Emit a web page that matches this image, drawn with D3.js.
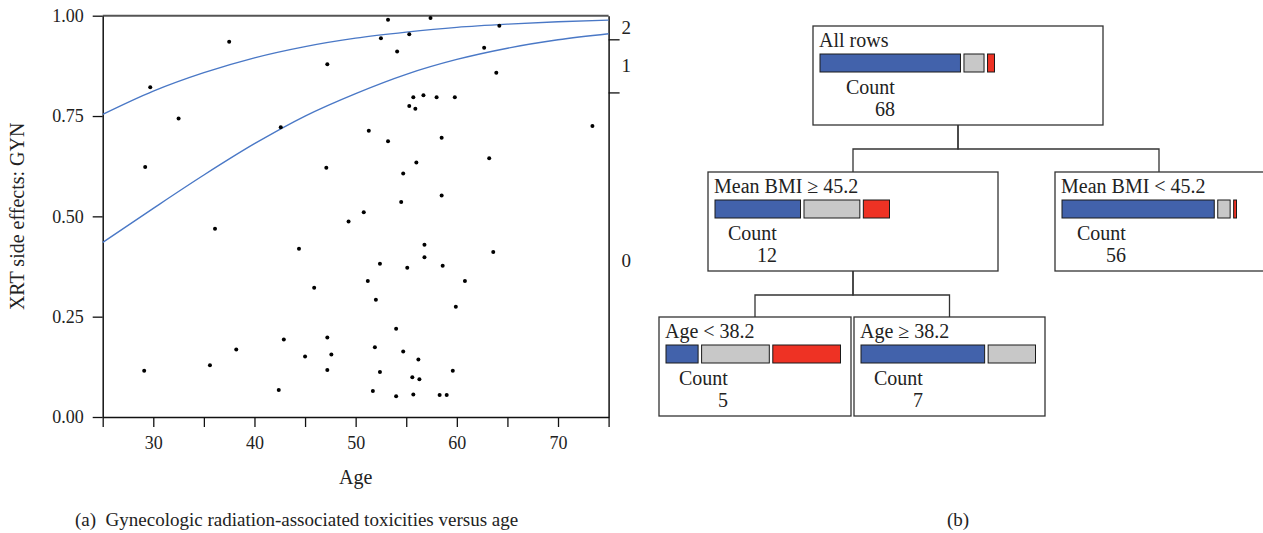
<!DOCTYPE html>
<html>
<head>
<meta charset="utf-8">
<title>XRT side effects: GYN versus age, with partition tree</title>
<script src="https://d3js.org/d3.v7.min.js"></script>
<style>
  body { margin: 0; background: #fff; }
  svg text { font-family: "Liberation Serif", "Times New Roman", serif; fill: #222; }
</style>
</head>
<body>
<svg width="1263" height="533"></svg>
<script>

// ---- panel (a) data: one point per patient, age vs plotted GYN score ----
var ages = [29.7, 37.5, 47.2, 32.5, 42.6, 29.2, 47.1, 53.2, 57.4, 64.2, 52.5, 55.3, 54.1, 62.7,
  63.9, 55.7, 56.7, 58.0, 59.8, 55.3, 55.9, 73.4, 51.3, 53.2, 58.5, 56.0, 63.2, 54.7, 54.5, 58.5,
  50.8, 36.1, 44.4, 49.3, 45.9, 42.9, 47.2, 38.2, 45.0, 47.6, 29.1, 35.6, 47.2, 42.4, 56.8, 63.6,
  56.8, 52.4, 55.1, 58.6, 51.2, 60.8, 52.0, 59.9, 54.0, 51.9, 54.7, 56.2, 52.4, 59.6, 55.6, 56.3,
  51.7, 54.0, 55.7, 58.3, 59.0];
var gynValues = [0.822, 0.935, 0.879, 0.744, 0.722, 0.623, 0.621, 0.990, 0.994, 0.975, 0.944, 0.954, 0.911, 0.920,
  0.858, 0.797, 0.802, 0.797, 0.797, 0.775, 0.768, 0.725, 0.713, 0.687, 0.696, 0.634, 0.645, 0.607, 0.536, 0.552,
  0.510, 0.469, 0.419, 0.487, 0.322, 0.193, 0.198, 0.168, 0.151, 0.156, 0.115, 0.129, 0.117, 0.067, 0.429, 0.411,
  0.398, 0.382, 0.372, 0.377, 0.339, 0.339, 0.292, 0.275, 0.220, 0.174, 0.163, 0.143, 0.112, 0.115, 0.099, 0.094,
  0.065, 0.052, 0.056, 0.055, 0.055];

// fitted cumulative probability curves, read at every 5 years
var curveAges  = [25, 30, 35, 40, 45, 50, 55, 60, 65, 70, 75];
var upperCurve = [0.754, 0.812, 0.858, 0.895, 0.923, 0.944, 0.959, 0.971, 0.979, 0.985, 0.989];
var lowerCurve = [0.435, 0.520, 0.603, 0.681, 0.750, 0.806, 0.854, 0.891, 0.919, 0.940, 0.955];

var xTicks = [25, 30, 35, 40, 45, 50, 55, 60, 65, 70, 75];
var xTickLabels = ["", "30", "", "40", "", "50", "", "60", "", "70", ""];
var yTicks = [0, 0.25, 0.5, 0.75, 1];
var gradeLabels = ["0", "1", "2"];
var gradeCounts = [55, 9, 4];

// ---- panel (b) data: partition tree ----
var nodeNames   = ["All rows", "Mean BMI \u2265 45.2", "Mean BMI < 45.2", "Age < 38.2", "Age \u2265 38.2"];
var nodeParents = [-1, 0, 0, 1, 1];
var nodeGrade0  = [55, 6, 49, 1, 5];
var nodeGrade1  = [9, 4, 5, 2, 2];
var nodeGrade2  = [4, 2, 2, 2, 0];

// box placement of each tree node (layout only)
var boxLayout = [
  {x: 813, y: 26,  w: 290, countX: 33},
  {x: 708, y: 172, w: 290, countX: 20},
  {x: 1055, y: 172, w: 220, countX: 22},
  {x: 659, y: 317, w: 192, countX: 20},
  {x: 854, y: 317, w: 191, countX: 20}
];
var boxH = 99, barW = 178;
var gradeColors = ["#4262ab", "#c8c8c8", "#ee3224"];
var curveColor = "#4a78c6";

var svg = d3.select("svg");

// ================= panel (a) =================
var x = d3.scaleLinear().domain([25, 75]).range([102.7, 608.6]);
var y = d3.scaleLinear().domain([0, 1]).range([417, 15.7]);

var gA = svg.append("g");

// top frame
gA.append("line")
  .attr("x1", x(25)).attr("x2", x(75)).attr("y1", y(1)).attr("y2", y(1))
  .attr("stroke", "#555").attr("stroke-width", 2);

var yAxis = gA.append("g")
  .attr("transform", "translate(" + x(25) + ",0)")
  .call(d3.axisLeft(y).tickValues(yTicks).tickFormat(d3.format(".2f")).tickSize(10).tickPadding(9).tickSizeOuter(0));

var xAxis = gA.append("g")
  .attr("transform", "translate(0," + y(0) + ")")
  .call(d3.axisBottom(x).tickValues(xTicks).tickFormat(function(d, i) { return xTickLabels[i]; })
    .tickSize(10).tickPadding(9).tickSizeOuter(0));

// right axis: cumulative share of each grade
var cum = d3.cumsum(gradeCounts);
var total = cum[cum.length - 1];
var bounds = [0].concat(Array.from(cum).map(function(c) { return c / total; }));
var yRight = gA.append("g")
  .attr("transform", "translate(" + x(75) + ",0)")
  .call(d3.axisRight(y).tickValues(bounds.slice(1, -1)).tickFormat("").tickSize(11).tickSizeOuter(0));

[yAxis, xAxis, yRight].forEach(function(a) {
  a.selectAll("path.domain").attr("stroke", "#111").attr("stroke-width", 1.5);
  a.selectAll(".tick line").attr("stroke", "#111").attr("stroke-width", 1.3);
  a.selectAll("text").attr("font-size", 18).attr("font-family", "Liberation Serif, serif").attr("fill", "#222");
});

gA.selectAll("text.grade")
  .data(gradeLabels)
  .join("text")
  .attr("class", "grade")
  .attr("x", x(75) + 13)
  .attr("y", function(d, i) { return y((bounds[i] + bounds[i + 1]) / 2) + (i === 0 ? 12 : 6); })
  .attr("font-size", 19)
  .text(function(d) { return d; });

// curves
var line = d3.line()
  .x(function(d, i) { return x(curveAges[i]); })
  .y(function(d) { return y(d); })
  .curve(d3.curveMonotoneX);

gA.selectAll("path.fit")
  .data([upperCurve, lowerCurve])
  .join("path")
  .attr("class", "fit")
  .attr("d", line)
  .attr("fill", "none")
  .attr("stroke", curveColor)
  .attr("stroke-width", 1.4);

// points
gA.selectAll("circle.pt")
  .data(ages)
  .join("circle")
  .attr("class", "pt")
  .attr("cx", function(d) { return x(d); })
  .attr("cy", function(d, i) { return y(gynValues[i]); })
  .attr("r", 2)
  .attr("fill", "#000");

// titles
gA.append("text")
  .attr("transform", "translate(24," + y(0.5) + ") rotate(-90)")
  .attr("text-anchor", "middle")
  .attr("font-size", 20)
  .text("XRT side effects: GYN");

gA.append("text")
  .attr("x", x(50)).attr("y", 484)
  .attr("text-anchor", "middle")
  .attr("font-size", 20)
  .text("Age");

gA.append("text")
  .attr("x", 75).attr("y", 526)
  .attr("font-size", 19)
  .attr("xml:space", "preserve")
  .text("(a)  Gynecologic radiation-associated toxicities versus age");

// ================= panel (b) =================
var gB = svg.append("g");

// connectors
nodeParents.forEach(function(p, i) {
  if (p < 0) return;
  var pb = boxLayout[p], cb = boxLayout[i];
  var px = pb.x + pb.w / 2, cx = cb.x + cb.w / 2;
  if (i === 2) cx = cb.x + 104;   // right leaf is cut off by the panel edge
  var midY = pb.y + boxH + 24;
  gB.append("path")
    .attr("d", "M" + px + "," + (pb.y + boxH) + "V" + midY + "H" + cx + "V" + cb.y)
    .attr("fill", "none")
    .attr("stroke", "#333")
    .attr("stroke-width", 1.3);
});

var nodes = gB.selectAll("g.node")
  .data(nodeNames)
  .join("g")
  .attr("class", "node")
  .attr("transform", function(d, i) { return "translate(" + boxLayout[i].x + "," + boxLayout[i].y + ")"; });

nodes.append("rect")
  .attr("width", function(d, i) { return boxLayout[i].w; })
  .attr("height", boxH)
  .attr("fill", "#fff")
  .attr("stroke", "#333")
  .attr("stroke-width", 1.3);

nodes.append("text")
  .attr("x", 6).attr("y", 21)
  .attr("font-size", 20)
  .text(function(d) { return d; });

nodes.each(function(d, i) {
  var counts = [nodeGrade0[i], nodeGrade1[i], nodeGrade2[i]];
  var n = d3.sum(counts);
  var w = d3.scaleLinear().domain([0, n]).range([0, barW]);
  var starts = [0, counts[0], counts[0] + counts[1]];
  var g = d3.select(this);
  g.selectAll("rect.seg")
    .data(counts.map(function(c, k) { return {c: c, s: starts[k], k: k}; }).filter(function(s) { return s.c > 0; }))
    .join("rect")
    .attr("class", "seg")
    .attr("x", function(s) { return 7 + w(s.s); })
    .attr("y", 28)
    .attr("width", function(s) { return Math.max(1.5, w(s.c) - 3.5); })
    .attr("height", 18)
    .attr("fill", function(s) { return gradeColors[s.k]; })
    .attr("stroke", "#1a1a1a")
    .attr("stroke-width", 1);

  var cx = boxLayout[i].countX;
  var cText = g.append("text")
    .attr("x", cx).attr("y", 68)
    .attr("font-size", 20)
    .text("Count");
  var cw = cText.node().getComputedTextLength();
  g.append("text")
    .attr("x", cx + cw).attr("y", 90)
    .attr("text-anchor", "end")
    .attr("font-size", 20)
    .text(n);
});

gB.append("text")
  .attr("x", 958).attr("y", 526)
  .attr("text-anchor", "middle")
  .attr("font-size", 19)
  .text("(b)");

</script>
</body>
</html>
